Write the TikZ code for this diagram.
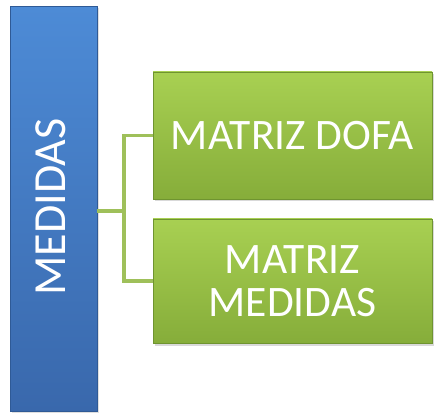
\documentclass[tikz,border=0pt]{standalone}
\usepackage{fontspec}
\setmainfont{Carlito}
\usetikzlibrary{shadows}
\definecolor{bluetop}{HTML}{4D8BD6}
\definecolor{bluebot}{HTML}{3968AC}
\definecolor{blueedge}{HTML}{2F5A96}
\definecolor{greentop}{HTML}{A8D052}
\definecolor{greenbot}{HTML}{86AD3A}
\definecolor{greenedge}{HTML}{6F9430}
\definecolor{linkgreen}{HTML}{9FC05A}
\tikzset{
  bluebar/.style={rectangle, minimum width=87pt, minimum height=405pt, inner sep=0pt,
    top color=bluetop, bottom color=bluebot, draw=blueedge, line width=0.8pt,
    drop shadow={shadow xshift=1.5pt, shadow yshift=-1.5pt, opacity=0.25}},
  greenbox/.style={rectangle, minimum width=279pt, inner sep=0pt,
    top color=greentop, bottom color=greenbot, draw=greenedge, line width=0.6pt,
    text=white, font=\fontsize{43.5}{43}\selectfont, align=center,
    drop shadow={shadow xshift=1.5pt, shadow yshift=-2.5pt, opacity=0.3}},
  link/.style={draw=linkgreen, line width=3.5pt}
}
\begin{document}
\begin{tikzpicture}[x=1pt,y=1pt]
\useasboundingbox (0,0) rectangle (434,413);
\node[bluebar] (med) at (53.5,204) {};
\node[text=white, rotate=90, font=\fontsize{46}{46}\selectfont] (medt) at (51,206) {MEDIDAS};
\node[greenbox, minimum height=127pt] (dofa) at (292.5,277.5) {MATRIZ DOFA};
\node[greenbox, minimum height=124pt] (mm) at (292.5,132) {MATRIZ\\MEDIDAS};
\coordinate (j) at (124,202);
\draw[link] (med.east |- j) -- (j);
\draw[link] (dofa.west) -| (j) |- (mm.west);
\end{tikzpicture}
\end{document}
